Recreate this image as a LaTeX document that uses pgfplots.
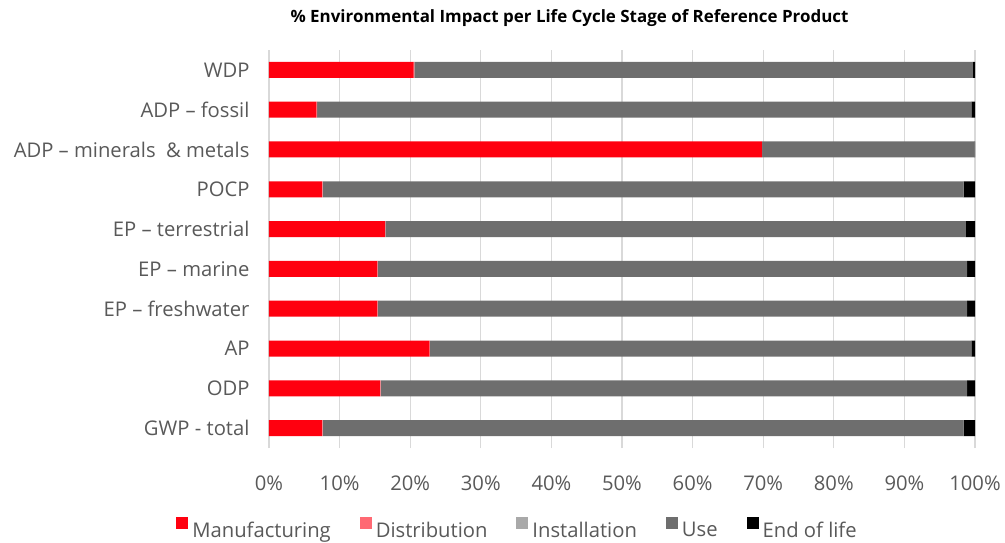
\documentclass[border=0pt]{standalone}
\usepackage{fontspec}
\setmainfont{Open Sans}
\usepackage{pgfplots}
\usepackage{pgfplotstable}
\pgfplotsset{compat=1.18}
\definecolor{abbred}{HTML}{FF000F}
\definecolor{distcol}{HTML}{FF6973}
\definecolor{instcol}{HTML}{A9A9A9}
\definecolor{usecol}{HTML}{6E6E6E}
\definecolor{labcol}{HTML}{595959}
\definecolor{gridcol}{HTML}{D9D9D9}
\pgfplotstableread{
y manu dist inst use eol
0 7.5 0.1 0 90.8 1.6
1 15.7 0.1 0 83.1 1.1
2 22.7 0.1 0 76.7 0.5
3 15.3 0.1 0 83.5 1.1
4 15.3 0.1 0 83.5 1.1
5 16.4 0.1 0 82.2 1.3
6 7.5 0.1 0 90.8 1.6
7 69.8 0.05 0 30.1 0.05
8 6.7 0.1 0 92.7 0.5
9 20.5 0.1 0 79.1 0.3
}\datatable
\begin{document}
\begin{tikzpicture}
\begin{axis}[
  scale only axis,
  width=706bp, height=398bp,
  xbar stacked,
  bar width=16bp,
  xmin=0, xmax=100,
  ymin=-0.5, ymax=9.5,
  xtick={0,10,...,100},
  xticklabel={\pgfmathprintnumber{\tick}\%},
  ytick={0,...,9},
  yticklabels={GWP - total, ODP, AP, EP – freshwater, EP – marine, EP – terrestrial, POCP, ADP – minerals\ \ \& metals, ADP – fossil, WDP},
  axis line style={draw=none},
  major tick length=0pt,
  xmajorgrids, grid style={gridcol, line width=1.3bp},
  tick label style={font=\fontsize{20.3}{22}\selectfont, text=labcol},
  /pgf/number format/assume math mode=true,
  yticklabel style={xshift=-16bp},
  xticklabel style={yshift=-24bp},
  title={\fontsize{17}{20}\selectfont\bfseries \% Environmental Impact per Life Cycle Stage of Reference Product},
  title style={at={(0.4257,1.065)}, anchor=center, text=black},
  legend style={at={(0.352,-0.2035)}, anchor=center, draw=none, font=\fontsize{20.3}{22}\selectfont, text=labcol,
    /tikz/every even column/.append style={column sep=27bp}},
  legend columns=5,
  legend image code/.code={\fill[#1] (0bp,1bp) rectangle (12bp,13bp); \path (14bp,0bp);},
]
\addplot[fill=abbred, draw=none] table[x=manu, y=y] {\datatable};
\addplot[fill=distcol, draw=none] table[x=dist, y=y] {\datatable};
\addplot[fill=instcol, draw=none] table[x=inst, y=y] {\datatable};
\addplot[fill=usecol, draw=none] table[x=use, y=y] {\datatable};
\addplot[fill=black, draw=none] table[x=eol, y=y] {\datatable};
\legend{Manufacturing, Distribution, Installation, Use, End of life}
\end{axis}
\path[use as bounding box] (-269bp,-95bp) rectangle (736bp,448bp);
\end{tikzpicture}
\end{document}
